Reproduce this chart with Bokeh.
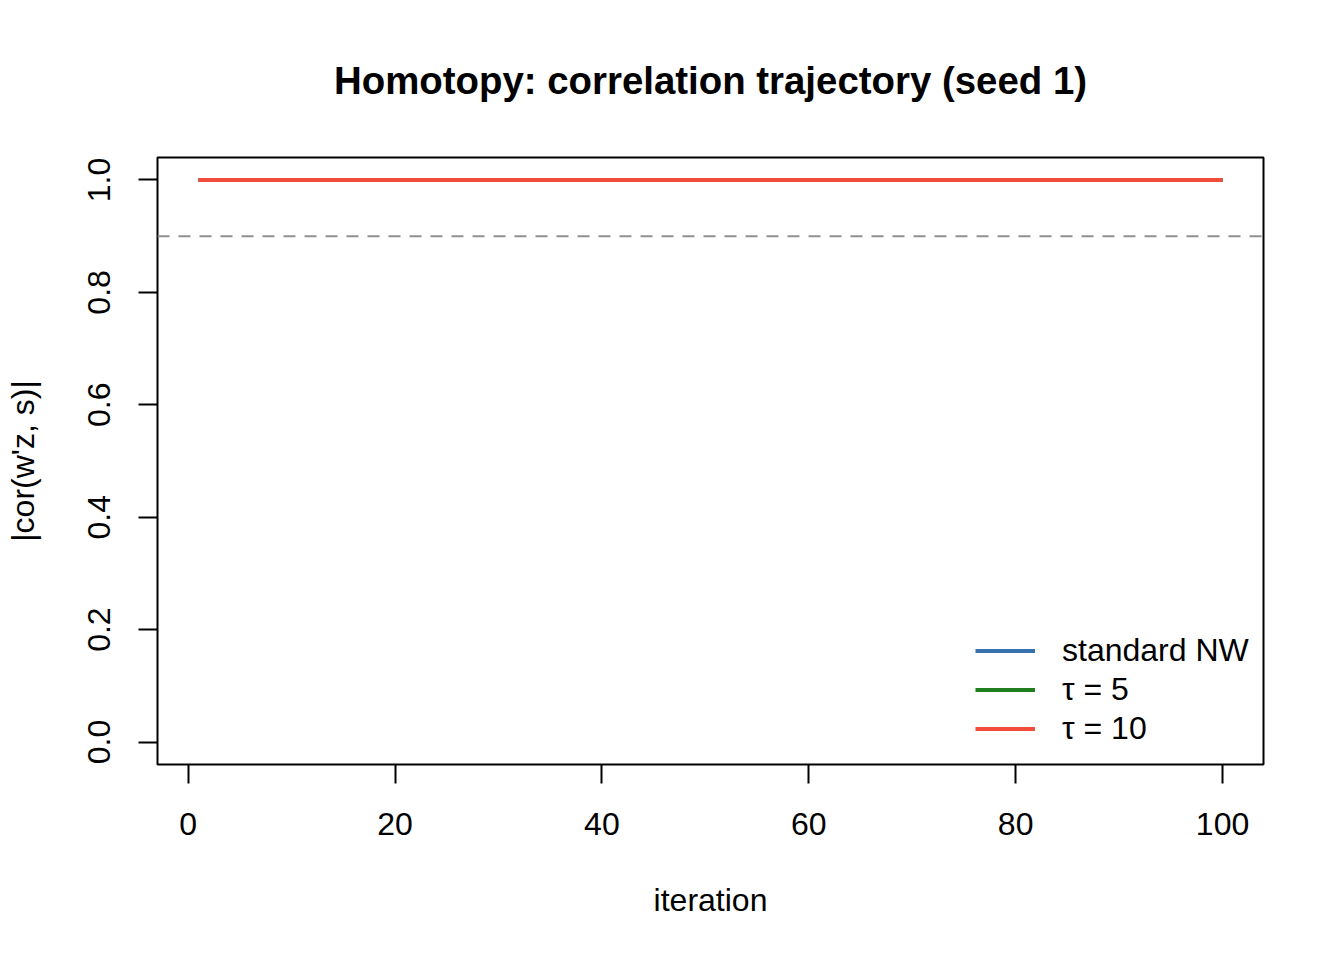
from bokeh.plotting import figure
from bokeh.models import Range1d, FixedTicker, NumeralTickFormatter, Legend, LegendItem, Span
from bokeh.embed import file_html
from bokeh.resources import INLINE

# ---- data ----
iterations = list(range(1, 101))
standard_nw = [1.0, 1.0, 1.0, 1.0, 1.0, 1.0, 1.0, 1.0, 1.0, 1.0,
               1.0, 1.0, 1.0, 1.0, 1.0, 1.0, 1.0, 1.0, 1.0, 1.0,
               1.0, 1.0, 1.0, 1.0, 1.0, 1.0, 1.0, 1.0, 1.0, 1.0,
               1.0, 1.0, 1.0, 1.0, 1.0, 1.0, 1.0, 1.0, 1.0, 1.0,
               1.0, 1.0, 1.0, 1.0, 1.0, 1.0, 1.0, 1.0, 1.0, 1.0,
               1.0, 1.0, 1.0, 1.0, 1.0, 1.0, 1.0, 1.0, 1.0, 1.0,
               1.0, 1.0, 1.0, 1.0, 1.0, 1.0, 1.0, 1.0, 1.0, 1.0,
               1.0, 1.0, 1.0, 1.0, 1.0, 1.0, 1.0, 1.0, 1.0, 1.0,
               1.0, 1.0, 1.0, 1.0, 1.0, 1.0, 1.0, 1.0, 1.0, 1.0,
               1.0, 1.0, 1.0, 1.0, 1.0, 1.0, 1.0, 1.0, 1.0, 1.0]
tau_5 = [1.0, 1.0, 1.0, 1.0, 1.0, 1.0, 1.0, 1.0, 1.0, 1.0,
         1.0, 1.0, 1.0, 1.0, 1.0, 1.0, 1.0, 1.0, 1.0, 1.0,
         1.0, 1.0, 1.0, 1.0, 1.0, 1.0, 1.0, 1.0, 1.0, 1.0,
         1.0, 1.0, 1.0, 1.0, 1.0, 1.0, 1.0, 1.0, 1.0, 1.0,
         1.0, 1.0, 1.0, 1.0, 1.0, 1.0, 1.0, 1.0, 1.0, 1.0,
         1.0, 1.0, 1.0, 1.0, 1.0, 1.0, 1.0, 1.0, 1.0, 1.0,
         1.0, 1.0, 1.0, 1.0, 1.0, 1.0, 1.0, 1.0, 1.0, 1.0,
         1.0, 1.0, 1.0, 1.0, 1.0, 1.0, 1.0, 1.0, 1.0, 1.0,
         1.0, 1.0, 1.0, 1.0, 1.0, 1.0, 1.0, 1.0, 1.0, 1.0,
         1.0, 1.0, 1.0, 1.0, 1.0, 1.0, 1.0, 1.0, 1.0, 1.0]
tau_10 = [1.0, 1.0, 1.0, 1.0, 1.0, 1.0, 1.0, 1.0, 1.0, 1.0,
          1.0, 1.0, 1.0, 1.0, 1.0, 1.0, 1.0, 1.0, 1.0, 1.0,
          1.0, 1.0, 1.0, 1.0, 1.0, 1.0, 1.0, 1.0, 1.0, 1.0,
          1.0, 1.0, 1.0, 1.0, 1.0, 1.0, 1.0, 1.0, 1.0, 1.0,
          1.0, 1.0, 1.0, 1.0, 1.0, 1.0, 1.0, 1.0, 1.0, 1.0,
          1.0, 1.0, 1.0, 1.0, 1.0, 1.0, 1.0, 1.0, 1.0, 1.0,
          1.0, 1.0, 1.0, 1.0, 1.0, 1.0, 1.0, 1.0, 1.0, 1.0,
          1.0, 1.0, 1.0, 1.0, 1.0, 1.0, 1.0, 1.0, 1.0, 1.0,
          1.0, 1.0, 1.0, 1.0, 1.0, 1.0, 1.0, 1.0, 1.0, 1.0,
          1.0, 1.0, 1.0, 1.0, 1.0, 1.0, 1.0, 1.0, 1.0, 1.0]
threshold = 0.9
series_labels = ["standard NW", "\u03c4 = 5", "\u03c4 = 10"]
series_colors = ["#3771AE", "#1F7F1F", "#F24D3C"]
x_ticks = [0, 20, 40, 60, 80, 100]
y_ticks = [0.0, 0.2, 0.4, 0.6, 0.8, 1.0]

FONT = "Liberation Sans"

p = figure(width=1340, height=956, output_backend="svg", toolbar_location=None,
           x_range=Range1d(-2.96, 103.96), y_range=Range1d(-0.04, 1.04),
           min_border_left=157, min_border_right=77, min_border_top=157, min_border_bottom=192)
p.background_fill_color = "white"
p.border_fill_color = "white"
p.outline_line_color = "black"
p.outline_line_width = 2
p.xgrid.visible = False
p.ygrid.visible = False

p.title.text = "Homotopy: correlation trajectory (seed 1)"
p.title.text_font = FONT
p.title.text_font_size = "38.4px"
p.title.text_font_style = "bold"
p.title.text_color = "black"
p.title.align = "center"
p.title.standoff = 112

for ax in (p.xaxis[0], p.yaxis[0]):
    ax.axis_line_color = None
    ax.major_tick_line_color = "black"
    ax.major_tick_line_width = 2
    ax.major_tick_out = 19
    ax.major_tick_in = 0
    ax.minor_tick_line_color = None
    ax.major_label_text_font = FONT
    ax.major_label_text_font_size = "32px"
    ax.major_label_text_color = "black"
    ax.axis_label_text_font = FONT
    ax.axis_label_text_font_size = "32px"
    ax.axis_label_text_font_style = "normal"
    ax.axis_label_text_color = "black"

p.xaxis.ticker = FixedTicker(ticks=x_ticks)
p.yaxis.ticker = FixedTicker(ticks=y_ticks)
p.yaxis.formatter = NumeralTickFormatter(format="0.0")
p.yaxis.major_label_orientation = "parallel"
p.xaxis.axis_label = "iteration"
p.yaxis.axis_label = "|cor(w'z, s)|"
p.xaxis.major_label_standoff = 29
p.yaxis.major_label_standoff = 28
p.xaxis.axis_label_standoff = 44
p.yaxis.axis_label_standoff = 45

p.add_layout(Span(location=threshold, dimension="width", line_color="#909090",
                  line_width=2, line_dash="12 9"))

renderers = []
for ys, c in zip([standard_nw, tau_5, tau_10], series_colors):
    r = p.line(iterations, ys, line_color=c, line_width=4)
    renderers.append(r)

legend = Legend(items=[LegendItem(label=l, renderers=[r]) for l, r in zip(series_labels, renderers)],
                location=(818, 16))
legend.border_line_color = None
legend.background_fill_alpha = 0
legend.padding = 0
legend.margin = 0
legend.spacing = 0
legend.glyph_width = 60
legend.glyph_height = 39
legend.label_height = 39
legend.label_standoff = 27
legend.label_text_font = FONT
legend.label_text_font_size = "32px"
legend.label_text_color = "black"
p.add_layout(legend, "center")

open("out.html", "w").write(file_html(p, INLINE))
